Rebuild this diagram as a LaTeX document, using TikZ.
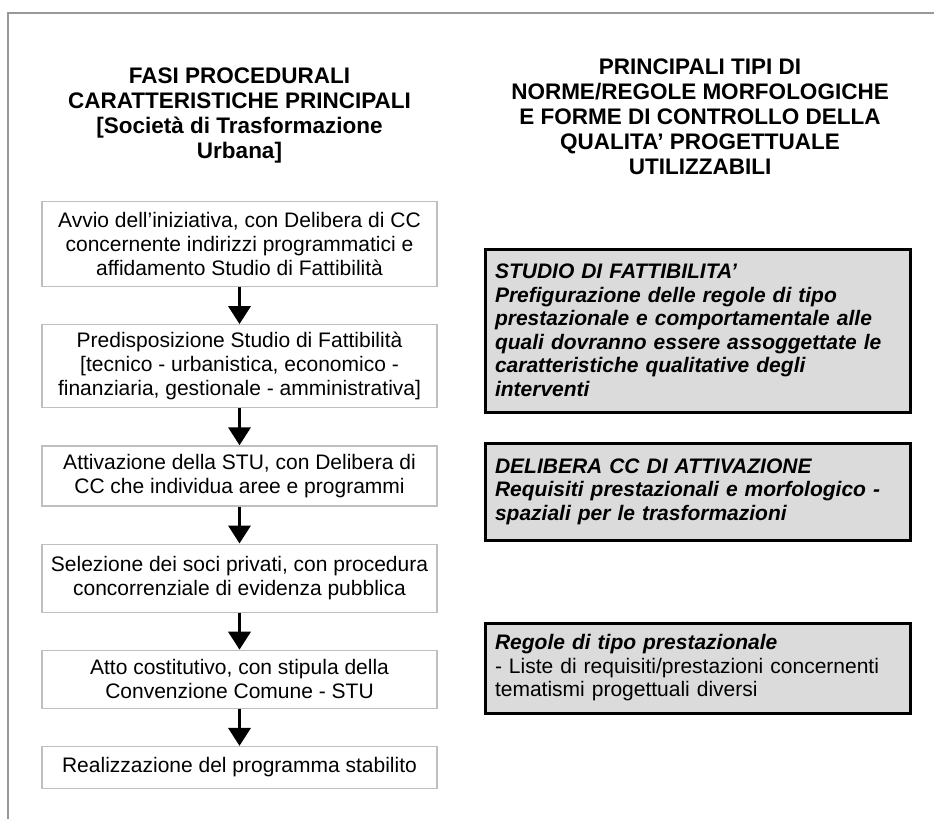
\documentclass[tikz,border=0pt]{standalone}
\usepackage{fontspec}
\setmainfont{Liberation Sans}
\usetikzlibrary{arrows.meta, positioning}

\begin{document}
\begin{tikzpicture}[
        x=1pt, y=-1pt,
        node distance=37pt,
        fase/.style={
            draw=black!25,
            line width=1.2pt,
            rectangle,
            minimum height=#1,
            minimum width=395pt,
            inner sep=6pt,
            align=center,
            fill=white,
            font=\fontsize{21}{24}\selectfont
        },
        fase/.default=50pt,
        norma/.style={
            draw=black,
            line width=3pt,
            rectangle,
            text width=405pt,
            inner xsep=10pt,
            inner ysep=6pt,
            minimum height=#1,
            align=left,
            fill=black!14,
            font=\fontsize{21}{23.5}\selectfont
        },
        norma/.default=90pt,
        enfasi/.style={font=\fontsize{21}{23.5}\selectfont\bfseries\itshape},
        titolo/.style={align=center, font=\fontsize{22.5}{25}\selectfont\bfseries},
        arrow/.style={-{Triangle[width=22pt,length=18pt]}, line width=3.5pt}
    ]

        \useasboundingbox (0,0) rectangle (934,819);
        \draw[black!40, line width=1.5pt] (8,819) -- (8,13) -- (934,13);

        \node[titolo] (tfasi) at (239.5,115) {FASI PROCEDURALI\\
        CARATTERISTICHE PRINCIPALI\\ {[}Società di Trasformazione\\ Urbana{]}};

        \node[titolo] (tnorme) at (700,117) {PRINCIPALI TIPI DI\\
        NORME/REGOLE MORFOLOGICHE\\ E FORME DI CONTROLLO DELLA\\
        QUALITA’ PROGETTUALE\\ UTILIZZABILI};

        \node[fase=85pt] (avvio) at (239.5,244) {Avvio dell’iniziativa, con Delibera di CC\\
        concernente indirizzi programmatici e\\ affidamento Studio di Fattibilità};

        \node[fase=83pt, below=of avvio] (studio) {Predisposizione Studio di Fattibilità\\
        {[}tecnico - urbanistica, economico -\\ finanziaria, gestionale - amministrativa{]}};

        \node[fase=60pt, below=of studio] (attiv) {Attivazione della STU, con Delibera di\\
        CC che individua aree e programmi};

        \node[fase=68pt, below=of attiv] (soci) {Selezione dei soci privati, con procedura\\
        concorrenziale di evidenza pubblica};

        \node[fase=58pt, below=of soci] (atto) {Atto costitutivo, con stipula della\\
        Convenzione Comune - STU};

        \node[fase=42pt, below=of atto] (realiz) {Realizzazione del programma stabilito};

        \node[norma=163pt, enfasi] (sdf) at (697.5,330.5) {STUDIO DI FATTIBILITA’\\
        Prefigurazione delle regole di tipo\\ prestazionale e comportamentale alle\\
        quali dovranno essere assoggettate le\\ caratteristiche qualitative degli\\ interventi};

        \node[norma=97pt, enfasi] (delibera) at (697.5,491.5) {DELIBERA CC DI ATTIVAZIONE\\
        Requisiti prestazionali e morfologico -\\ spaziali per le trasformazioni};

        \node[norma=90pt] (regole) at (697.5,668) {\textbf{\textit{Regole di tipo prestazionale}}\\
        - Liste di requisiti/prestazioni concernenti\\ tematismi progettuali diversi};

        \draw[arrow] (avvio) -- (studio);
        \draw[arrow] (studio) -- (attiv);
        \draw[arrow] (attiv) -- (soci);
        \draw[arrow] (soci) -- (atto);
        \draw[arrow] (atto) -- (realiz);

    \end{tikzpicture}
\end{document}
